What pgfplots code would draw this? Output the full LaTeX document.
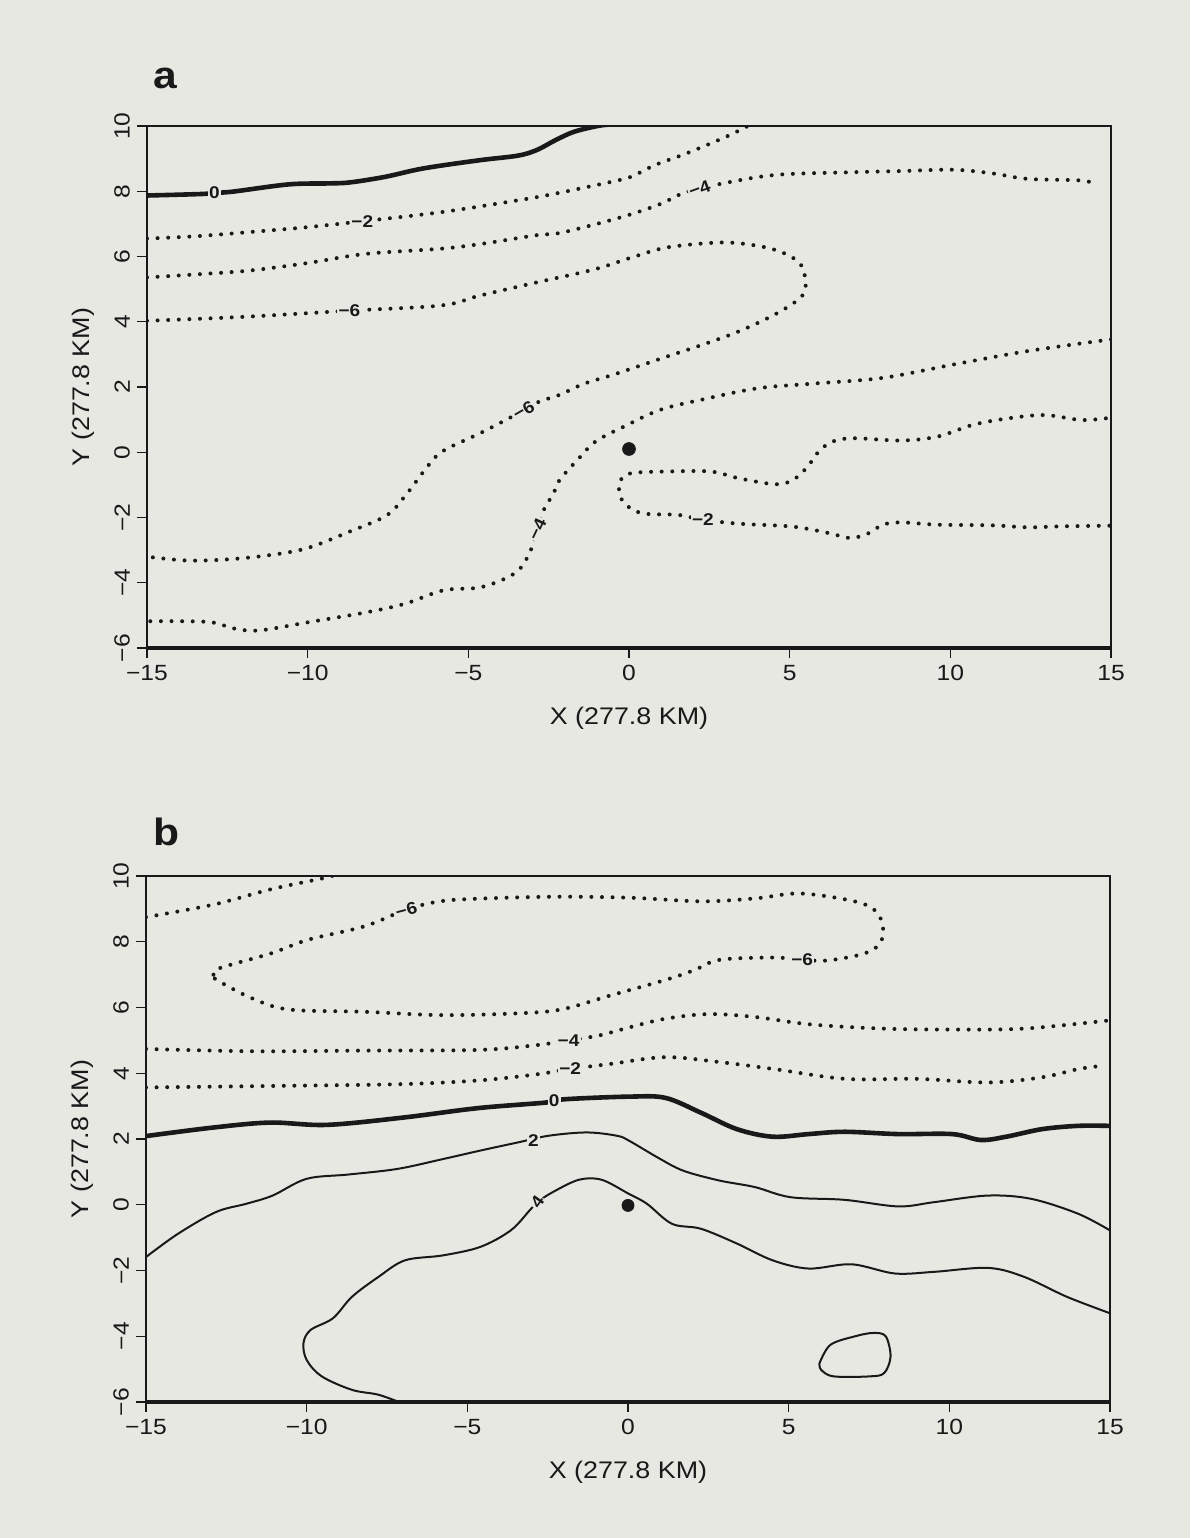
\documentclass[border=0pt]{standalone}
\usepackage{fontspec}
\setmainfont{Liberation Sans}[FakeStretch=1.12]
\usepackage{pgfplots}
\pgfplotsset{compat=1.18}
\definecolor{paper}{RGB}{231,232,226}
\definecolor{ink}{RGB}{25,25,25}

\tikzset{clab/.style={fill=paper, inner sep=0.6pt, text=ink, font=\bfseries\fontsize{8.5}{9}\selectfont}}
\pgfplotsset{
  panel/.style={
    scale only axis, width=482pt,
    xmin=-15, xmax=15, ymin=-6, ymax=10,
    xtick={-15,-10,...,15}, xticklabels={−15,−10,−5,0,5,10,15},
    ytick={-6,-4,...,10}, yticklabels={−6,−4,−2,0,2,4,6,8,10},
    tick align=outside, xtick pos=bottom, ytick pos=left,
    major tick length=5pt,
    tick style={ink, line width=0.6pt},
    axis line style={ink, line width=1.3pt},
    tick label style={font=\fontsize{11}{12}\selectfont, text=ink},
    yticklabel style={rotate=90, anchor=south},
    xlabel={X (277.8 KM)}, ylabel={Y (277.8 KM)},
    label style={font=\fontsize{12}{14}\selectfont, text=ink},
    xlabel style={at={(axis description cs:0.5,0)}, anchor=center, yshift=-35pt},
    ylabel style={at={(axis description cs:0,0.5)}, anchor=center, yshift=32pt},
  },
  dotc/.style={ink, line width=2pt, line cap=round, dash pattern=on 0pt off 5.3pt, smooth, tension=0.55, no marks},
  thickc/.style={ink, line width=2.3pt, line cap=round, smooth, tension=0.55, no marks},
  thinc/.style={ink, line width=1pt, smooth, tension=0.55, no marks},
}

\begin{document}
\begin{tikzpicture}
\fill[paper] (0pt,0pt) rectangle (595pt,-769pt);

% ---------------- panel a ----------------
\node[font=\bfseries\fontsize{19}{20}\selectfont, text=ink] at (82.5pt,-39pt) {a};
\begin{axis}[panel, name=A, height=261pt, at={(73.5pt,-324pt)}, anchor=south west]
% 0
\addplot[thickc] coordinates {(-15,7.87) (-13.2,7.92) (-12.4,7.98) (-10.6,8.21) (-9.4,8.24) (-8.7,8.27) (-7.6,8.44) (-6.4,8.7) (-4.66,8.95) (-3.47,9.09) (-2.88,9.26) (-2.28,9.57) (-1.69,9.83) (-0.86,10.02) (-0.3,10.05)};
% -2
\addplot[dotc] coordinates {(-15,6.55) (-13.5,6.62) (-11.8,6.75) (-10,6.9) (-8.3,7.08) (-5.84,7.36) (-3.47,7.72) (-2.28,7.93) (-0.5,8.3) (0.08,8.45) (0.8,8.8) (1.76,9.15) (3.0,9.66) (3.7,10.0)};
% -4 upper
\addplot[dotc] coordinates {(-15,5.36) (-13.5,5.45) (-11.8,5.57) (-10,5.8) (-8.2,6.08) (-5.84,6.24) (-4.5,6.4) (-2.9,6.65) (-2.16,6.72) (-1,7.0) (0.08,7.3) (1.0,7.62) (1.76,7.97) (2.87,8.23) (4.55,8.5) (6.8,8.58) (8.5,8.62) (10.1,8.66) (11.3,8.55) (12.4,8.38) (14.06,8.33) (14.6,8.2)};
% -6
\addplot[dotc] coordinates {(-15,4.03) (-12,4.15) (-8.7,4.34) (-5.84,4.5) (-4.65,4.8) (-2.9,5.2) (-1.1,5.6) (0.08,5.97) (1.2,6.28) (2.87,6.43) (3.99,6.33) (4.78,6.12) (5.34,5.76) (5.5,5.15) (5.34,4.74) (4.55,4.23) (3.43,3.71) (2.3,3.3) (1.2,2.94) (-0.48,2.38) (-1.4,2.1) (-2.16,1.76) (-2.8,1.55) (-3.28,1.28) (-4.58,0.61) (-5.77,0.05) (-6.25,-0.41) (-6.96,-1.33) (-7.55,-1.94) (-8.74,-2.45) (-9.92,-2.91) (-10.87,-3.11) (-12.3,-3.27) (-13.7,-3.32) (-15,-3.2)};
% -4 lower
\addplot[dotc] coordinates {(15,3.46) (12.4,3.1) (10.1,2.69) (7.9,2.28) (5.67,2.1) (4.0,1.96) (2.3,1.62) (0.97,1.3) (-0.15,0.79) (-1.04,0.33) (-1.6,-0.23) (-2.16,-0.85) (-2.33,-1.22) (-2.69,-1.84) (-2.86,-2.35) (-3.04,-2.96) (-3.5,-3.67) (-4.58,-4.13) (-5.77,-4.23) (-6.96,-4.64) (-8.14,-4.9) (-9.92,-5.2) (-11.5,-5.46) (-12.3,-5.4) (-13.1,-5.2) (-15,-5.18)};
% -2 loop
\addplot[dotc] coordinates {(14.84,1.04) (14.06,0.99) (12.94,1.14) (11.8,1.04) (10.7,0.84) (9.6,0.48) (8.47,0.36) (7.0,0.43) (6.34,0.33) (5.9,0.02) (5.56,-0.44) (5.1,-0.85) (4.55,-0.98) (3.43,-0.8) (2.54,-0.59) (1.2,-0.59) (0.08,-0.64) (-0.26,-0.85) (-0.31,-1.15) (-0.15,-1.56) (0.41,-1.87) (1.53,-1.92) (2.3,-2.07) (3.43,-2.19) (5.1,-2.28) (6.23,-2.48) (6.9,-2.63) (7.46,-2.48) (7.9,-2.22) (8.47,-2.15) (9.6,-2.22) (11.3,-2.24) (12.4,-2.3) (13.5,-2.27) (15,-2.25)};
\addplot[only marks, mark=*, mark size=3.2pt, ink] coordinates {(0,0.1)};
\node[clab] at (axis cs:-12.9,7.95) {0};
\node[clab] at (axis cs:-8.3,7.08) {−2};
\node[clab, rotate=20] at (axis cs:2.2,8.08) {−4};
\node[clab] at (axis cs:-8.7,4.34) {−6};
\node[clab, rotate=30] at (axis cs:-3.28,1.28) {−6};
\node[clab, rotate=65] at (axis cs:-2.86,-2.35) {−4};
\node[clab] at (axis cs:2.3,-2.07) {−2};
\end{axis}
\draw[ink, line width=2pt] (A.south west) -- (A.south east);

% ---------------- panel b ----------------
\node[font=\bfseries\fontsize{19}{20}\selectfont, text=ink] at (83pt,-416pt) {b};
\begin{axis}[panel, name=B, height=263pt, at={(73pt,-701pt)}, anchor=south west]
% -6 fragment top left
\addplot[dotc] coordinates {(-15,8.75) (-12.9,9.13) (-11.1,9.6) (-9.4,9.95) (-9.2,10.02)};
% -6 loop
\addplot[dotc] coordinates {(-12.9,7.0) (-12.7,7.2) (-11.1,7.65) (-9.96,8.06) (-8.2,8.47) (-6.9,8.98) (-5.85,9.23) (-4.67,9.31) (-2.3,9.37) (0.06,9.34) (2.29,9.23) (3.97,9.32) (5.3,9.47) (6.76,9.29) (7.54,9.06) (7.88,8.67) (7.93,8.16) (7.7,7.81) (7.2,7.6) (6.2,7.43) (5.42,7.45) (4.53,7.52) (2.85,7.45) (2.07,7.14) (1.17,6.84) (-0.5,6.38) (-2.08,5.94) (-3.5,5.82) (-5.85,5.77) (-8.2,5.87) (-10.55,5.94) (-11.7,6.28) (-12.8,6.84) (-12.9,7.0)};
% -4
\addplot[dotc] coordinates {(-15,4.74) (-11.7,4.67) (-8.2,4.69) (-4.67,4.71) (-2.9,4.85) (-1.85,5.0) (-0.9,5.15) (0.06,5.4) (1.17,5.66) (2.51,5.8) (3.97,5.71) (5.64,5.49) (7.88,5.36) (10.1,5.33) (12.35,5.36) (15,5.61)};
% -2
\addplot[dotc] coordinates {(-15,3.57) (-10.55,3.62) (-7.02,3.67) (-4.67,3.78) (-2.9,3.96) (-1.8,4.13) (-0.5,4.29) (1.17,4.49) (2.85,4.34) (4.53,4.13) (6.76,3.83) (8.99,3.83) (11.23,3.72) (12.9,3.88) (14.02,4.13) (14.8,4.23)};
% 0
\addplot[thickc] coordinates {(-15,2.09) (-12.9,2.35) (-11.14,2.5) (-9.38,2.43) (-7.02,2.65) (-4.67,2.94) (-2.55,3.11) (-1.96,3.21) (0.06,3.29) (1.17,3.25) (2.27,2.8) (3.39,2.3) (4.5,2.07) (5.62,2.15) (6.74,2.22) (8.41,2.15) (10.09,2.15) (10.98,1.97) (11.77,2.07) (12.88,2.3) (14.0,2.4) (15,2.4)};
% 2
\addplot[thinc] coordinates {(-15,-1.59) (-14.0,-0.88) (-12.82,-0.22) (-11.88,0.03) (-11.06,0.28) (-10.0,0.79) (-8.7,0.92) (-7.18,1.09) (-5.76,1.39) (-4.59,1.65) (-3.41,1.9) (-2.47,2.1) (-1.29,2.2) (-0.35,2.1) (0.03,1.95) (0.92,1.44) (1.71,1.04) (2.83,0.74) (3.94,0.54) (5.06,0.23) (6.74,0.15) (8.41,-0.05) (9.53,0.08) (11.2,0.28) (12.55,0.18) (14.0,-0.27) (15,-0.78)};
% 4
\addplot[thinc] coordinates {(-7.0,-6.05) (-7.76,-5.78) (-8.59,-5.63) (-9.53,-5.22) (-10.0,-4.72) (-10.1,-4.21) (-9.88,-3.81) (-9.18,-3.45) (-8.59,-2.8) (-7.76,-2.19) (-6.94,-1.69) (-5.76,-1.54) (-4.59,-1.28) (-3.65,-0.78) (-3.06,-0.17) (-2.82,0.08) (-2.35,0.38) (-1.53,0.76) (-0.82,0.76) (0.03,0.33) (0.59,0.03) (1.37,-0.58) (2.27,-0.73) (3.39,-1.18) (4.5,-1.69) (5.62,-1.94) (6.96,-1.81) (8.3,-2.09) (9.53,-2.04) (11.2,-1.92) (12.32,-2.19) (13.66,-2.8) (15,-3.3)};
% small closed contour
\addplot[thinc] coordinates {(5.96,-4.82) (6.3,-4.26) (7.07,-4.0) (7.63,-3.9) (8.02,-4.0) (8.17,-4.62) (7.97,-5.12) (7.52,-5.22) (6.4,-5.22) (6.01,-5.02) (5.96,-4.82)};
\addplot[only marks, mark=*, mark size=3pt, ink] coordinates {(0,-0.02)};
\node[clab, rotate=15] at (axis cs:-6.9,8.98) {−6};
\node[clab] at (axis cs:5.42,7.45) {−6};
\node[clab] at (axis cs:-1.85,5.0) {−4};
\node[clab] at (axis cs:-1.8,4.13) {−2};
\node[clab] at (axis cs:-2.3,3.16) {0};
\node[clab] at (axis cs:-2.94,1.95) {2};
\node[clab, rotate=55] at (axis cs:-2.82,0.08) {4};
\end{axis}
\draw[ink, line width=2pt] (B.south west) -- (B.south east);
\end{tikzpicture}
\end{document}
